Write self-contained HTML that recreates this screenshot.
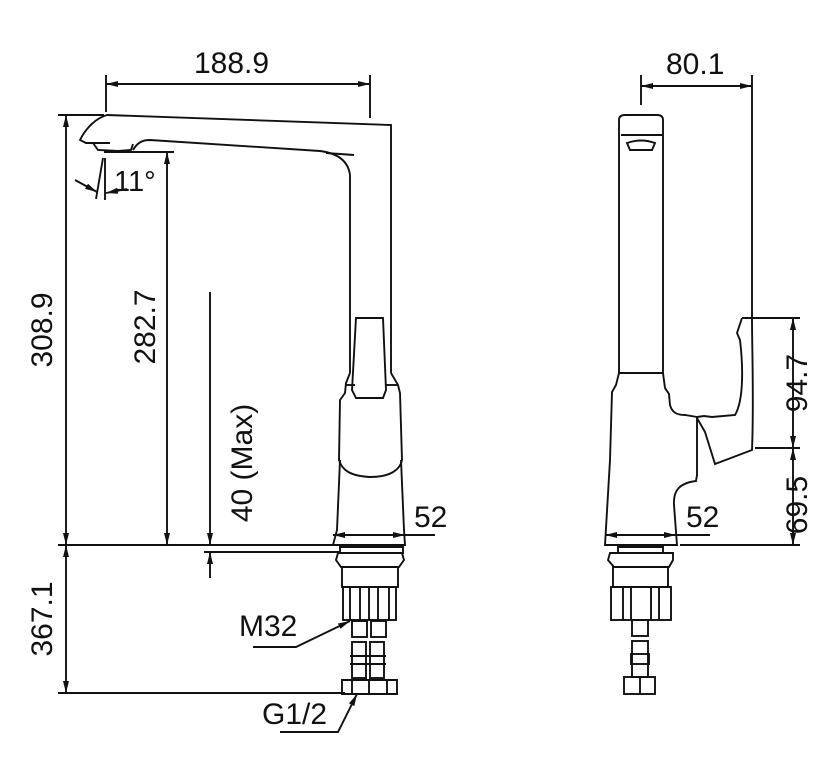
<!DOCTYPE html>
<html><head><meta charset="utf-8"><style>
html,body{margin:0;padding:0;background:#fff;}
svg{display:block;}
text{font-family:"Liberation Sans",sans-serif;font-size:30px;fill:#111;}
</style></head><body>
<svg width="831" height="767" viewBox="0 0 831 767" xmlns="http://www.w3.org/2000/svg">
<defs>
<marker id="a" viewBox="0 0 12 6" refX="12" refY="3" markerWidth="12" markerHeight="6" orient="auto-start-reverse" markerUnits="userSpaceOnUse"><path d="M0,0 L12,3 L0,6 z" fill="#111"/></marker>
</defs>
<g stroke="#111" stroke-width="1.9" fill="none">
<line x1="106" y1="75" x2="106" y2="112"/>
<line x1="370" y1="75" x2="370" y2="118"/>
<line x1="106" y1="84" x2="370" y2="84" marker-start="url(#a)" marker-end="url(#a)"/>
<line x1="58" y1="115" x2="104" y2="115"/>
<line x1="58" y1="545" x2="340" y2="545"/>
<line x1="58" y1="693" x2="345" y2="693"/>
<line x1="66" y1="115" x2="66" y2="545" marker-start="url(#a)" marker-end="url(#a)"/>
<line x1="66" y1="545" x2="66" y2="693" marker-start="url(#a)" marker-end="url(#a)"/>
<line x1="104" y1="152" x2="174" y2="152"/>
<line x1="167" y1="152" x2="167" y2="545" marker-start="url(#a)" marker-end="url(#a)"/>
<line x1="210" y1="292" x2="210" y2="545" marker-end="url(#a)"/>
<line x1="210" y1="578" x2="210" y2="552" marker-end="url(#a)"/>
<line x1="204" y1="552" x2="340" y2="552"/>
<line x1="333" y1="535" x2="405" y2="535" marker-start="url(#a)" marker-end="url(#a)"/>
<line x1="405" y1="535" x2="435" y2="535"/>
<line x1="103" y1="158" x2="96" y2="199"/>
<line x1="105" y1="158" x2="105" y2="200"/>
<line x1="75" y1="180" x2="97" y2="192" marker-end="url(#a)"/>
<line x1="127" y1="189" x2="106" y2="193" marker-end="url(#a)"/>
<path d="M107,115 L391,125 L391,373"/>
<path d="M107,115 C96,118 86,128 80,140 L86,143 L110,143"/>
<path d="M93,143 L98,150 L118,151 L131,150 L133,144"/>
<path d="M133,150 C137,143 142,140 150,140 L320,151 C336,153 348,160 350,175 L350,373"/>
<line x1="354" y1="155" x2="326" y2="153"/>
<path d="M356,318 L383,318 L386,390 L383,398 L356,398 L352,390 Z"/>
<path d="M350,373 L346,383 L345,393 L340,400 L339,460 C342,470 350,476 370,477 C390,477 400,470 402,460 L400,393 L398,385 L391,373"/>
<path d="M340,460 L337,530 L333,545 L405,545 L404,530 L401,460"/>
<line x1="346" y1="385" x2="355" y2="385"/>
<line x1="385" y1="385" x2="398" y2="385"/>
<path d="M340,547 L403,547 L403,553 L340,553 Z"/>
<path d="M338,553 L402,553 L404,560 L399,567 L341,567 L336,560 Z"/>
<rect x="342" y="567" width="56" height="20"/>
<rect x="343" y="587" width="53" height="33"/>
<line x1="350" y1="587" x2="350" y2="620"/><line x1="360" y1="587" x2="360" y2="620"/>
<line x1="369" y1="587" x2="369" y2="620"/><line x1="378" y1="587" x2="378" y2="620"/>
<line x1="389" y1="587" x2="389" y2="620"/>
<rect x="352" y="621" width="15" height="16"/><rect x="371" y="621" width="15" height="16"/>
<rect x="352" y="642" width="14" height="36"/><rect x="370" y="642" width="14" height="36"/>
<line x1="350" y1="656" x2="368" y2="656"/><line x1="350" y1="664" x2="368" y2="664"/>
<line x1="368" y1="656" x2="386" y2="656"/><line x1="368" y1="664" x2="386" y2="664"/>
<path d="M342,680 L397,680 L397,694 L342,694 Z"/>
<line x1="352" y1="680" x2="352" y2="694"/><line x1="369" y1="680" x2="369" y2="694"/><line x1="387" y1="680" x2="387" y2="694"/>
<path d="M253,647 L296,647 L350,621" marker-end="url(#a)"/>
<path d="M280,732 L338,732 L357,694" marker-end="url(#a)"/>

<line x1="641" y1="75" x2="641" y2="105"/>
<line x1="752" y1="75" x2="752" y2="318"/>
<line x1="641" y1="86" x2="752" y2="86" marker-start="url(#a)" marker-end="url(#a)"/>
<line x1="745" y1="318" x2="800" y2="318"/>
<line x1="755" y1="448" x2="800" y2="448"/>
<line x1="680" y1="545" x2="800" y2="545"/>
<line x1="793" y1="318" x2="793" y2="448" marker-start="url(#a)" marker-end="url(#a)"/>
<line x1="793" y1="448" x2="793" y2="545" marker-start="url(#a)" marker-end="url(#a)"/>
<line x1="605" y1="535" x2="676" y2="535" marker-start="url(#a)" marker-end="url(#a)"/>
<line x1="676" y1="535" x2="710" y2="535"/>
<path d="M619,373 L619,120 Q619,115 625,115 L657,115 Q663,115 663,120 L663,373"/>
<line x1="621" y1="135" x2="662" y2="135"/>
<path d="M627,143 Q641,138 655,143 L652,150 L630,150 Z"/>
<line x1="619" y1="373" x2="663" y2="373"/>
<path d="M619,373 L616,385 L612,392 L610,460 L605,545 L677,545 L674,505 C673,490 680,483 696,481 L697,475"/>
<path d="M663,373 L665,388 L669,394 L670,405 C672,412 676,415 685,415 L697,417"/>
<path d="M697,417 L697,476"/>
<path d="M742,318 L737,333 L740,340 C743,365 744,400 735,415 L712,417 L704,416 L697,417"/>
<path d="M752,318 C752,350 754,400 752,450 L715,464 L705,432 L697,418"/>
<path d="M742,318 L752,318"/>
<path d="M618,547 L663,547 L663,553 L618,553 Z"/>
<path d="M610,553 L673,553 L673,560 L669,567 L614,567 L608,560 Z"/>
<rect x="613" y="567" width="55" height="20"/>
<rect x="611" y="587" width="60" height="33"/>
<line x1="623" y1="587" x2="623" y2="620"/><line x1="631" y1="587" x2="631" y2="620"/>
<line x1="651" y1="587" x2="651" y2="620"/><line x1="659" y1="587" x2="659" y2="620"/>
<rect x="632" y="620" width="16" height="16"/>
<rect x="632" y="641" width="16" height="36"/>
<rect x="631" y="654" width="18" height="10"/>
<rect x="624" y="677" width="31" height="17"/>
<line x1="640" y1="677" x2="640" y2="694"/>
</g>
<text x="194" y="73">188.9</text>
<text x="666" y="74">80.1</text>
<text x="114" y="191" style="font-size:29px">11°</text>
<text x="414" y="527">52</text>
<text x="686" y="527">52</text>
<text x="239" y="636">M32</text>
<text x="262" y="724">G1/2</text>
<text transform="translate(52,330) rotate(-90)" text-anchor="middle">308.9</text>
<text transform="translate(52,619) rotate(-90)" text-anchor="middle">367.1</text>
<text transform="translate(155,327) rotate(-90)" text-anchor="middle">282.7</text>
<text transform="translate(252,463) rotate(-90)" text-anchor="middle">40 (Max)</text>
<text transform="translate(807,383) rotate(-90)" text-anchor="middle">94.7</text>
<text transform="translate(807,505) rotate(-90)" text-anchor="middle">69.5</text>
</svg>
</body></html>
